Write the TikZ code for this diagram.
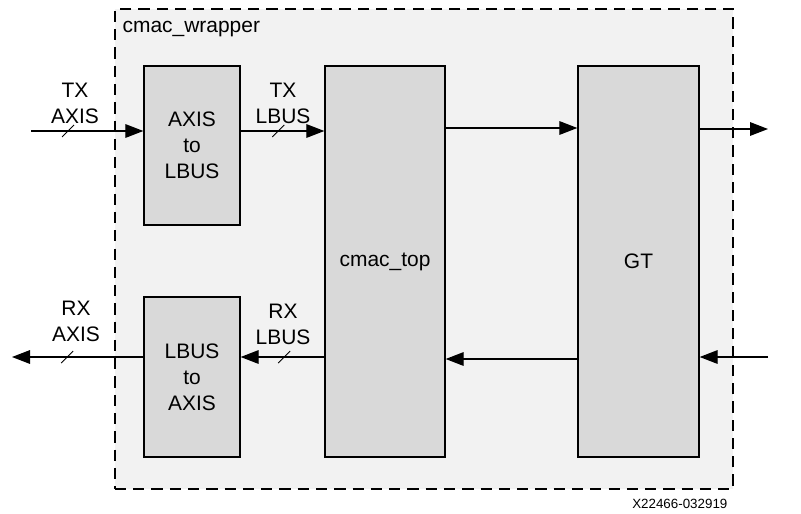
\documentclass[tikz,border=0pt]{standalone}
\usepackage{fontspec}
\setmainfont{Liberation Sans}
\usetikzlibrary{arrows.meta}

\definecolor{wrapfill}{HTML}{F2F2F2}
\definecolor{blockfill}{HTML}{D9D9D9}

\begin{document}
\begin{tikzpicture}[x=0.025cm,y=-0.025cm,line width=0.9pt,
  font=\fontsize{14.9}{18.5}\selectfont,
  block/.style={draw,fill=blockfill,align=center,inner sep=0pt},
  sig/.style={-{Triangle[length=0.45cm,width=0.34cm]}},
  lbl/.style={align=center,inner sep=0pt,anchor=south},
  slash/.pic={\draw[line width=0.6pt,-] (-6,6) -- (6,-6);}]
\useasboundingbox (0,0) rectangle (801,513);
% wrapper
\node [draw,dashed,dash pattern=on 8pt off 5pt,fill=wrapfill,minimum width=15.45cm,minimum height=12cm] (wrap) at (424,249) {};
\node [anchor=base west,inner sep=0pt] (wrapname) at (122,32) {cmac\_wrapper};
% blocks
\node [block,minimum width=2.4cm,minimum height=3.975cm] (a2l) at (192,145.5) {AXIS\\to\\LBUS};
\node [block,minimum width=2.4cm,minimum height=4cm] (l2a) at (192,377) {LBUS\\to\\AXIS};
\node [block,minimum width=3cm,minimum height=9.775cm] (top) at (385,261.5) {cmac\_top};
\node [block,minimum width=3.025cm,minimum height=9.775cm] (gt) at (638.5,261.5) {GT};
% free ends
\coordinate (txin) at (31,131);
\coordinate (rxout) at (12,357);
\coordinate (gtout) at (768,129);
\coordinate (gtin) at (768,357);
\coordinate (txmid) at (500,128);
\coordinate (rxmid) at (500,359);
% tx path
\draw [sig] (txin) -- (txin -| a2l.west) pic[pos=0.33]{slash};
\draw [sig] (txin -| a2l.east) -- (txin -| top.west) pic[pos=0.45]{slash};
\draw [sig] (txmid -| top.east) -- (txmid -| gt.west);
\draw [sig] (gtout -| gt.east) -- (gtout);
% rx path
\draw [sig] (gtin) -- (gtin -| gt.east);
\draw [sig] (rxmid -| gt.west) -- (rxmid -| top.east);
\draw [sig] (rxout -| top.west) -- (rxout -| l2a.east) pic[pos=0.48]{slash};
\draw [sig] (rxout -| l2a.west) -- (rxout) pic[pos=0.58]{slash};
% labels
\node [lbl] (txaxis) at (75,124) {TX\\AXIS};
\node [lbl] (txlbus) at (283,124) {TX\\LBUS};
\node [lbl] (rxaxis) at (76,342) {RX\\AXIS};
\node [lbl] (rxlbus) at (283,345) {RX\\LBUS};
\node [anchor=base east,inner sep=0pt,font=\fontsize{9.5}{11}\selectfont] (figid) at (728,508) {X22466-032919};
\end{tikzpicture}
\end{document}
